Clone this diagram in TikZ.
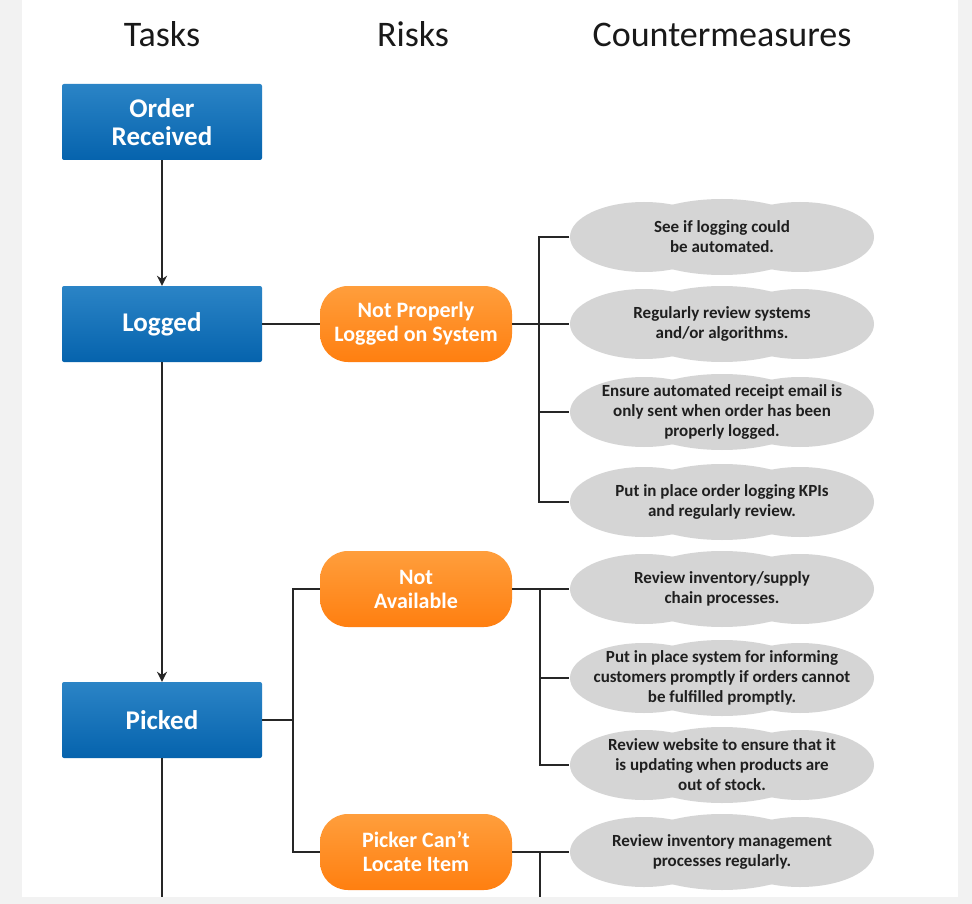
\documentclass[tikz,border=0pt]{standalone}
\usepackage{fontspec}
\setmainfont{Carlito}
\usepackage{xcolor}
\usetikzlibrary{arrows.meta}
\definecolor{bluetop}{HTML}{2B84C6}
\definecolor{bluebot}{HTML}{0563AD}
\definecolor{orangetop}{HTML}{FF9E3C}
\definecolor{orangebot}{HTML}{FF7F10}
\definecolor{cmgray}{HTML}{D5D5D5}
\definecolor{panelgray}{HTML}{F2F2F2}
\newcommand{\taskx}{162}
\newcommand{\riskx}{416}
\newcommand{\cmx}{722}

\begin{document}
\begin{tikzpicture}[x=1pt, y=-1pt, >={Stealth[length=10pt, width=10pt]},
    headline/.style={anchor=base, text=black!90, font=\fontsize{36}{40}\selectfont},
    taskbox/.style={rectangle, rounded corners=2pt, minimum width=200pt, minimum height=76pt, top color=bluetop, bottom color=bluebot, text=white, align=center, font=\bfseries\fontsize{27}{28}\selectfont},
    riskbox/.style={rectangle, rounded corners=28pt, minimum width=192pt, minimum height=76pt, top color=orangetop, bottom color=orangebot, text=white, align=center, font=\bfseries\fontsize{22}{24}\selectfont},
    cmbox/.style={rectangle, minimum width=305pt, minimum height=78pt, inner sep=0pt, align=center, text=black!88, font=\bfseries\fontsize{17}{20}\selectfont,
      path picture={
        \fill[cmgray] ([xshift=-78pt]path picture bounding box.center) ellipse (74pt and 35pt);
        \fill[cmgray] ([xshift=78pt]path picture bounding box.center) ellipse (74pt and 35pt);
        \fill[cmgray] (path picture bounding box.center) ellipse (94pt and 38pt);
      }},
    link/.style={line width=2.4pt, black!85}]
    
    % background
    \useasboundingbox (0,0) rectangle (972,904);
    \fill[panelgray] (0,0) rectangle (972,904);
    \fill[white] (22,0) rectangle (958,897);
    
    % titles
    \node [headline] (ttask) at (\taskx, 47) {Tasks};
    \node [headline] (trisk) at (\riskx-3, 47) {Risks};
    \node [headline] (tcm) at (\cmx, 47) {Countermeasures};
    
    % tasks
    \node [taskbox] (order) at (\taskx, 122) {Order\\Received};
    \node [taskbox] (logged) at (\taskx, 324) {Logged};
    \node [taskbox] (picked) at (\taskx, 720) {Picked};
    \coordinate (tend) at (\taskx, 897);
    
    % risks
    \node [riskbox] (npl) at (\riskx, 324) {Not Properly\\Logged on System};
    \node [riskbox] (nav) at (\riskx, 589) {Not\\Available};
    \node [riskbox] (pcl) at (\riskx, 852) {Picker Can't\\Locate Item};
    
    % countermeasures
    \node [cmbox] (c1) at (\cmx, 237) {See if logging could\\be automated.};
    \node [cmbox] (c2) at (\cmx, 324) {Regularly review systems\\and/or algorithms.};
    \node [cmbox] (c3) at (\cmx, 412) {Ensure automated receipt email is\\only sent when order has been\\properly logged.};
    \node [cmbox] (c4) at (\cmx, 502) {Put in place order logging KPIs\\and regularly review.};
    \node [cmbox] (c5) at (\cmx, 589) {Review inventory/supply\\chain processes.};
    \node [cmbox] (c6) at (\cmx, 678) {Put in place system for informing\\customers promptly if orders cannot\\be fulfilled promptly.};
    \node [cmbox] (c7) at (\cmx, 765) {Review website to ensure that it\\is updating when products are\\out of stock.};
    \node [cmbox] (c8) at (\cmx, 852) {Review inventory management\\processes regularly.};
    
    % bracket points
    \coordinate (b1) at (539, 324);
    \coordinate (b2) at (540, 589);
    \coordinate (b3) at (540, 852);
    \coordinate (b4) at (293, 720);
    \coordinate (bend) at (540, 897);
    
    % task flow
    \draw [link, ->] (order) -- (logged);
    \draw [link, ->] (logged) -- (picked);
    \draw [link] (picked) -- (tend);
    
    % logged
    \draw [link] (logged) -- (npl);
    \draw [link] (npl) -- (c2);
    \draw [link] (c1.west) -- (b1 |- c1) -- (b1 |- c4) -- (c4.west);
    \draw [link] (b1 |- c3) -- (c3.west);
    
    % picked
    \draw [link] (picked) -- (b4);
    \draw [link] (nav.west) -- (b4 |- nav) -- (b4 |- pcl) -- (pcl.west);
    \draw [link] (nav) -- (c5);
    \draw [link] (b2) -- (b2 |- c7) -- (c7.west);
    \draw [link] (b2 |- c6) -- (c6.west);
    \draw [link] (pcl) -- (c8);
    \draw [link] (b3) -- (bend);
\end{tikzpicture}
\end{document}
